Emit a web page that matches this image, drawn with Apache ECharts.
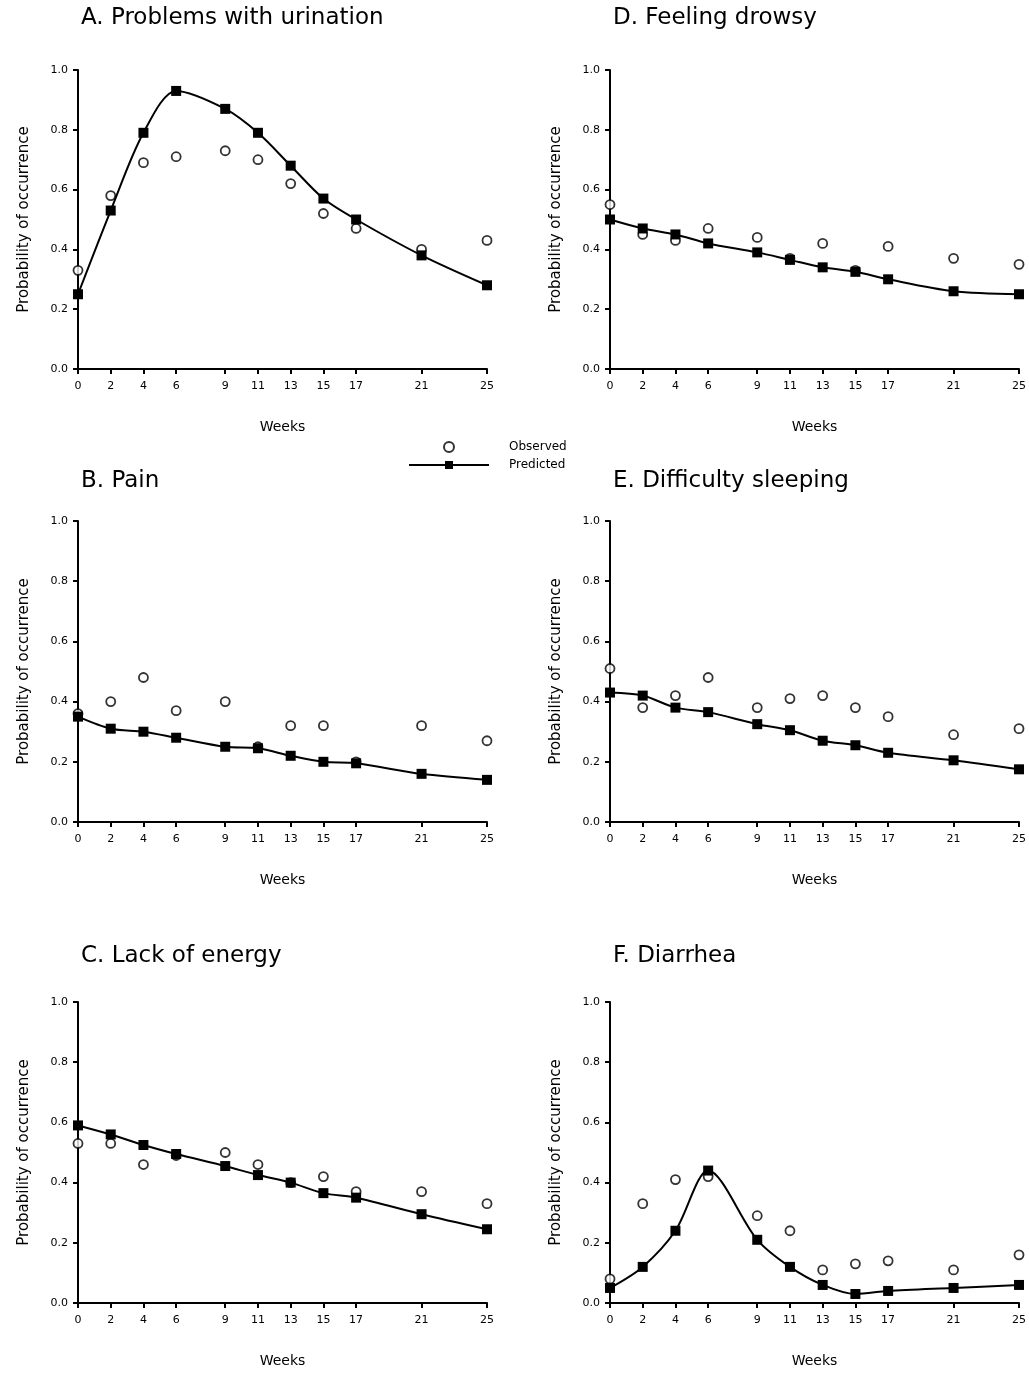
<!DOCTYPE html>
<html>
<head>
<meta charset="utf-8">
<title>Probability of occurrence by week</title>
<script src="https://cdn.jsdelivr.net/npm/echarts@6/dist/echarts.min.js"></script>
<style>
  html, body { margin: 0; padding: 0; background: #fff; }
  #chart { width: 1029px; height: 1373px; }
</style>
</head>
<body>
<div id="chart"></div>
<script>
// weeks where symptoms were recorded (also the x tick labels)
const weeks = [0, 2, 4, 6, 9, 11, 13, 15, 17, 21, 25];

const titles = [
  "A. Problems with urination",
  "B. Pain",
  "C. Lack of energy",
  "D. Feeling drowsy",
  "E. Difficulty sleeping",
  "F. Diarrhea",
];

// observed / predicted probability, one value per week
const urinationObs = [0.33, 0.58, 0.69, 0.71, 0.73, 0.70, 0.62, 0.52, 0.47, 0.40, 0.43];
const urinationPred = [0.25, 0.53, 0.79, 0.93, 0.87, 0.79, 0.68, 0.57, 0.50, 0.38, 0.28];

const painObs = [0.36, 0.40, 0.48, 0.37, 0.40, 0.25, 0.32, 0.32, 0.20, 0.32, 0.27];
const painPred = [0.35, 0.31, 0.30, 0.28, 0.25, 0.245, 0.22, 0.20, 0.195, 0.16, 0.14];

const energyObs = [0.53, 0.53, 0.46, 0.49, 0.50, 0.46, 0.40, 0.42, 0.37, 0.37, 0.33];
const energyPred = [0.59, 0.56, 0.525, 0.495, 0.455, 0.425, 0.40, 0.365, 0.35, 0.295, 0.245];

const drowsyObs = [0.55, 0.45, 0.43, 0.47, 0.44, 0.37, 0.42, 0.33, 0.41, 0.37, 0.35];
const drowsyPred = [0.50, 0.47, 0.45, 0.42, 0.39, 0.365, 0.34, 0.325, 0.30, 0.26, 0.25];

const sleepObs = [0.51, 0.38, 0.42, 0.48, 0.38, 0.41, 0.42, 0.38, 0.35, 0.29, 0.31];
const sleepPred = [0.43, 0.42, 0.38, 0.365, 0.325, 0.305, 0.27, 0.255, 0.23, 0.205, 0.175];

const diarrheaObs = [0.08, 0.33, 0.41, 0.42, 0.29, 0.24, 0.11, 0.13, 0.14, 0.11, 0.16];
const diarrheaPred = [0.05, 0.12, 0.24, 0.44, 0.21, 0.12, 0.06, 0.03, 0.04, 0.05, 0.06];

const observed = [urinationObs, painObs, energyObs, drowsyObs, sleepObs, diarrheaObs];
const predicted = [urinationPred, painPred, energyPred, drowsyPred, sleepPred, diarrheaPred];

// panel boxes: left, top, width, height (left column A-C, right column D-F)
const boxes = [
  [78, 70, 409, 299],
  [78, 521, 409, 301],
  [78, 1002, 409, 301],
  [610, 70, 409, 299],
  [610, 521, 409, 301],
  [610, 1002, 409, 301],
];
// top of each panel title
const titleTops = [7, 470, 945, 7, 470, 945];

const font = "DejaVu Sans, Liberation Sans, Arial, sans-serif";
const axisLine = { show: true, onZero: false, lineStyle: { color: "#000", width: 2 } };
const axisTick = { show: true, inside: false, length: 5, lineStyle: { color: "#000", width: 2 } };

function pairs(xs, ys) {
  return xs.map((x, i) => [x, ys[i]]);
}

const option = {
  animation: false,
  backgroundColor: "#fff",
  title: titles.map((t, i) => ({
    text: t,
    left: boxes[i][0] + 3,
    top: titleTops[i],
    padding: 0,
    textStyle: { fontFamily: font, fontSize: 23, fontWeight: "normal", color: "#000" },
  })),
  legend: {
    left: 408,
    top: 441,
    orient: "vertical",
    itemWidth: 80,
    itemHeight: 10,
    itemGap: 6,
    padding: 0,
    data: ["Observed", "Predicted"],
    textStyle: { fontFamily: font, fontSize: 12, color: "#000", padding: [0, 0, 0, 15] },
  },
  grid: boxes.map((b) => ({ left: b[0], top: b[1], width: b[2], height: b[3] })),
  xAxis: boxes.map((b, i) => ({
    gridIndex: i,
    type: "value",
    min: 0,
    max: 25,
    name: "Weeks",
    nameLocation: "middle",
    nameGap: 51,
    nameTextStyle: { fontFamily: font, fontSize: 14, color: "#000" },
    axisLine: axisLine,
    axisTick: Object.assign({ customValues: weeks }, axisTick),
    axisLabel: {
      customValues: weeks,
      margin: 12,
      fontFamily: font,
      fontSize: 11,
      color: "#000",
    },
    splitLine: { show: false },
  })),
  yAxis: boxes.map((b, i) => ({
    gridIndex: i,
    type: "value",
    min: 0,
    max: 1,
    interval: 0.2,
    name: "Probability of occurrence",
    nameLocation: "middle",
    nameRotate: 90,
    nameGap: 46,
    nameTextStyle: { fontFamily: font, fontSize: 15, color: "#000" },
    axisLine: axisLine,
    axisTick: axisTick,
    axisLabel: {
      margin: 10,
      fontFamily: font,
      fontSize: 11,
      color: "#000",
      formatter: (v) => v.toFixed(1),
    },
    splitLine: { show: false },
  })),
  series: [],
};

for (let i = 0; i < 6; i++) {
  option.series.push({
    name: "Observed",
    type: "scatter",
    xAxisIndex: i,
    yAxisIndex: i,
    data: pairs(weeks, observed[i]),
    symbol: "circle",
    symbolSize: 9,
    itemStyle: { color: "#fff", borderColor: "#000", borderWidth: 1.8 },
    z: 2,
  });
  option.series.push({
    name: "Predicted",
    type: "line",
    xAxisIndex: i,
    yAxisIndex: i,
    data: pairs(weeks, predicted[i]),
    smooth: 0.3,
    symbol: "rect",
    symbolSize: 10,
    itemStyle: { color: "#000" },
    lineStyle: { color: "#000", width: 2 },
    z: 3,
  });
}

const chart = echarts.init(document.getElementById("chart"));
chart.setOption(option);
</script>
</body>
</html>
